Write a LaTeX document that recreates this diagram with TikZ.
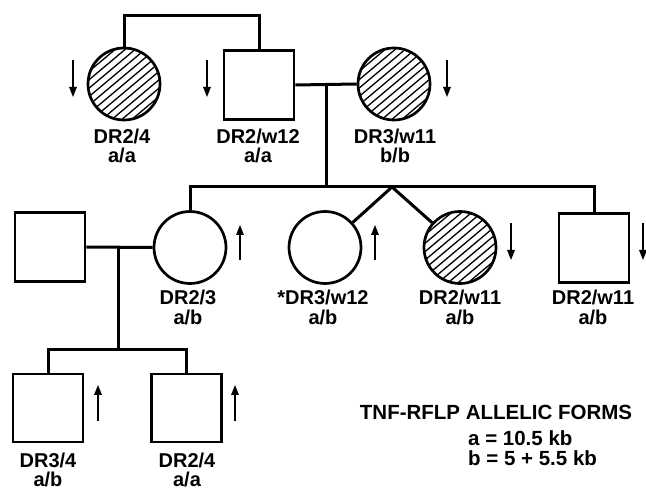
\documentclass[tikz,border=0pt]{standalone}
\usepackage{fontspec}
\setmainfont{Liberation Sans}
\usetikzlibrary{arrows.meta,calc}
\newcommand\hatchin[1]{\begin{scope}\clip (#1.center) circle (35);\foreach \d in {-100,-90,...,100}{\draw[hatch] ($(#1.center)+(\d-50,42)$) -- ++(100,-84);}\end{scope}}
\begin{document}
\begin{tikzpicture}[x=1pt,y=-1pt,
  fem/.style={circle,draw,line width=2.7pt,minimum size=72pt,inner sep=0pt},
  mal/.style={rectangle,draw,line width=2.7pt,minimum width=70pt,minimum height=69pt,inner sep=0pt},
  lbl/.style={font=\fontsize{20}{20}\selectfont\bfseries,anchor=base,inner sep=0pt},
  leg/.style={font=\fontsize{20.5}{20.5}\selectfont\bfseries,inner sep=0pt},
  arr/.style={line width=1.5pt,-{Triangle[length=10pt,width=7.5pt]}},
  link/.style={line width=3pt},
  hatch/.style={line width=1.3pt}]
\useasboundingbox (0,0) rectangle (646,489);
% generation I
\node[fem] (c1) at (124,84) {};
\node[mal] (s1) at (259,85) {};
\node[fem] (c2) at (394,84) {};
\hatchin{c1}
\hatchin{c2}
\draw[link] (c1.north) -- ++(0,-31) coordinate (t1) -| (s1.north);
\draw[link] (s1.east) -- (c2.west);
\coordinate (m1) at (326,85);
\coordinate (sib) at (326,187);
\draw[link] (m1) -- (sib);
\draw[arr] (73,60) -- (73,97);
\draw[arr] (207,60) -- (207,97);
\draw[arr] (447,60) -- (447,97);
\node[lbl] (l1a) at (122,144) {DR2/4};
\node[lbl] (l1b) at (122,163) {a/a};
\node[lbl] (l2a) at (258,144) {DR2/w12};
\node[lbl] (l2b) at (258,163) {a/a};
\node[lbl] (l3a) at (395,144) {DR3/w11};
\node[lbl] (l3b) at (395,163) {b/b};
% generation II
\node[mal] (s2) at (50,247) {};
\node[fem] (c3) at (190,247.5) {};
\node[fem] (c4) at (325,247.5) {};
\node[fem] (c5) at (460,247.5) {};
\node[mal] (s3) at (594,248) {};
\hatchin{c5}
\coordinate (apex) at (392,187);
\draw[link] (c3.north) |- (sib) -| (s3.north);
\draw[link] (apex) -- (c4);
\draw[link] (apex) -- (c5);
\draw[link] (s2.east) -- (c3.west);
\coordinate (m2) at (118,246);
\coordinate (sib2) at (118,350);
\draw[link] (m2) -- (sib2);
\draw[arr] (240,260) -- (240,225);
\draw[arr] (375,260) -- (375,225);
\draw[arr] (511,223) -- (511,260);
\draw[arr] (643,223) -- (643,260);
\node[lbl] (l4a) at (188,305) {DR2/3};
\node[lbl] (l4b) at (188,325) {a/b};
\node[lbl] (l5a) at (323,305) {*DR3/w12};
\node[lbl] (l5b) at (323,325) {a/b};
\node[lbl] (l6a) at (460,305) {DR2/w11};
\node[lbl] (l6b) at (460,325) {a/b};
\node[lbl] (l7a) at (593,305) {DR2/w11};
\node[lbl] (l7b) at (593,325) {a/b};
% generation III
\node[mal,minimum height=68pt] (s4) at (48,408) {};
\node[mal,minimum height=68pt] (s5) at (186.5,408) {};
\draw[link] (s4.north) |- (sib2) -| (s5.north);
\draw[arr] (98,421) -- (98,385);
\draw[arr] (235,421) -- (235,385);
\node[lbl] (l8a) at (48,467) {DR3/4};
\node[lbl] (l8b) at (48,486) {a/b};
\node[lbl] (l9a) at (187,467) {DR2/4};
\node[lbl] (l9b) at (187,486) {a/a};
% legend
\node[leg,anchor=base] (lg) at (496,419) {TNF-RFLP ALLELIC FORMS};
\node[leg,anchor=base west] (la) at (468,445) {a = 10.5 kb};
\node[leg,anchor=base west] (lb) at (468,465) {b = 5 + 5.5 kb};
\end{tikzpicture}
\end{document}
